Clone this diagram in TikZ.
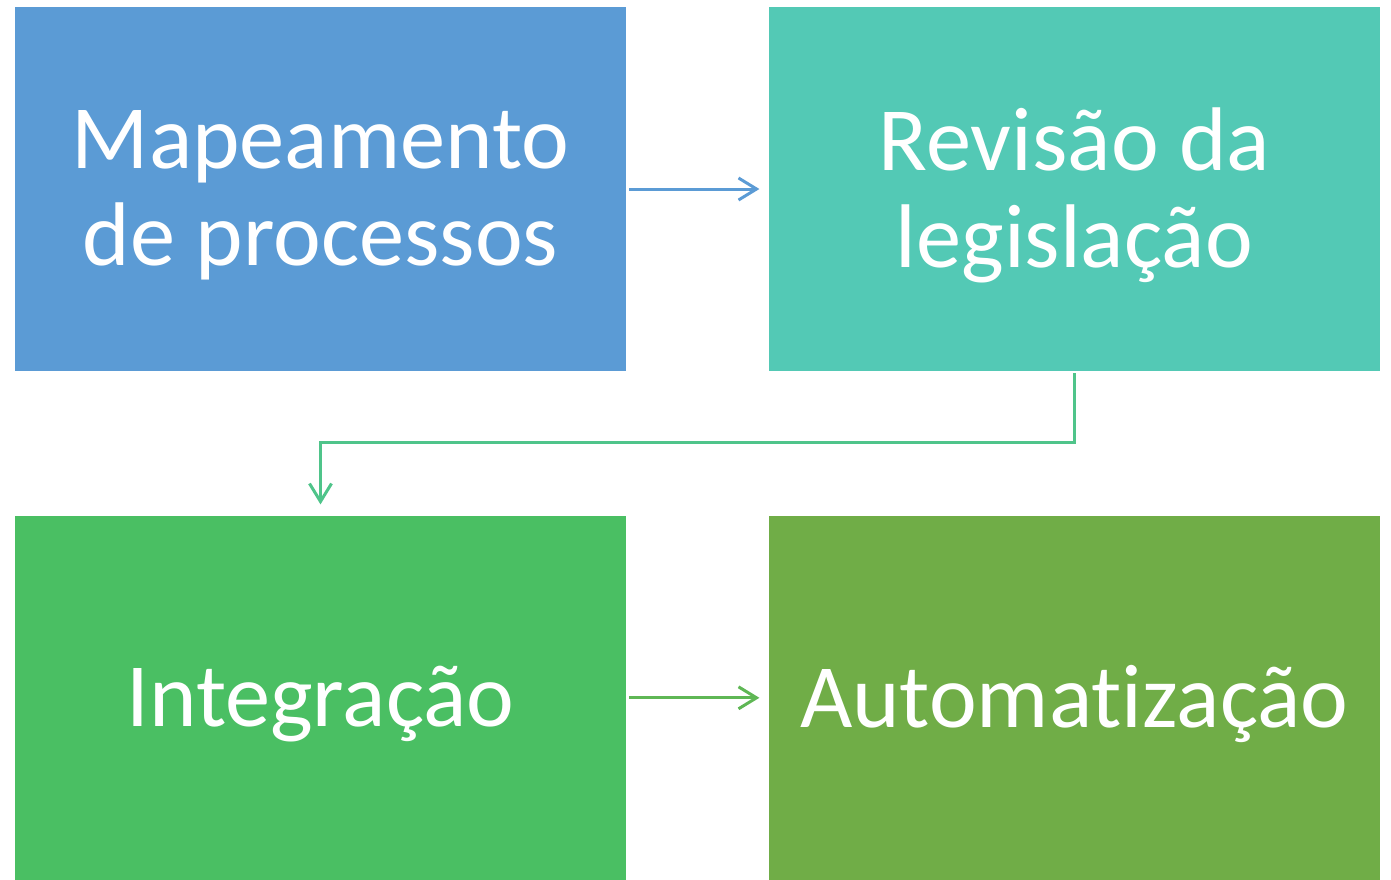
\documentclass[tikz,border=0pt]{standalone}
\usepackage{fontspec}
\setmainfont{Carlito}[Ligatures=NoCommon]
\usetikzlibrary{positioning, arrows.meta}

\definecolor{mapblue}{HTML}{5B9BD5}
\definecolor{revteal}{HTML}{53C9B5}
\definecolor{intgreen}{HTML}{4ABF63}
\definecolor{autgreen}{HTML}{70AD47}
\definecolor{linkteal}{HTML}{4FC48A}
\definecolor{linkgreen}{HTML}{5FB755}

\tikzset{
	etapa/.style={rectangle, fill=#1, inner sep=0pt,
		minimum width=305.5pt, minimum height=182pt},
	rotulo/.style={text=white, align=center, inner sep=0pt, yshift=-3pt,
		font=\fontsize{45.2pt}{48.5pt}\selectfont},
	seta/.style={draw=#1, line width=1.5pt, -{Straight Barb[length=9pt,width=11pt,line width=1.5pt]},
		shorten <=1.5pt, shorten >=4.5pt},
}

\begin{document}
\begin{tikzpicture}[node distance=72pt and 71pt]
	  \useasboundingbox (0,0) rectangle (695.5pt,-439.5pt);
	  \node [etapa=mapblue, label={[rotulo]center:Mapeamento\\de processos}] (map) at (160.25pt,-94.5pt) {};
	  \node [etapa=revteal, right=of map, label={[rotulo]center:Revisão da\\legislação}] (rev) {};
	  \node [etapa=intgreen, below=of map, label={[rotulo]center:Integração}] (int) {};
	  \node [etapa=autgreen, right=of int, label={[rotulo]center:Automatização}] (aut) {};

	  \draw [seta=mapblue] (map) -- (rev);
	  \draw [seta=linkteal, shorten <=1pt, shorten >=5.5pt] (rev.south) -- ++(0,-35.5pt) -| (int.north);
	  \draw [seta=linkgreen] (int) -- (aut);
	\end{tikzpicture}
\end{document}
